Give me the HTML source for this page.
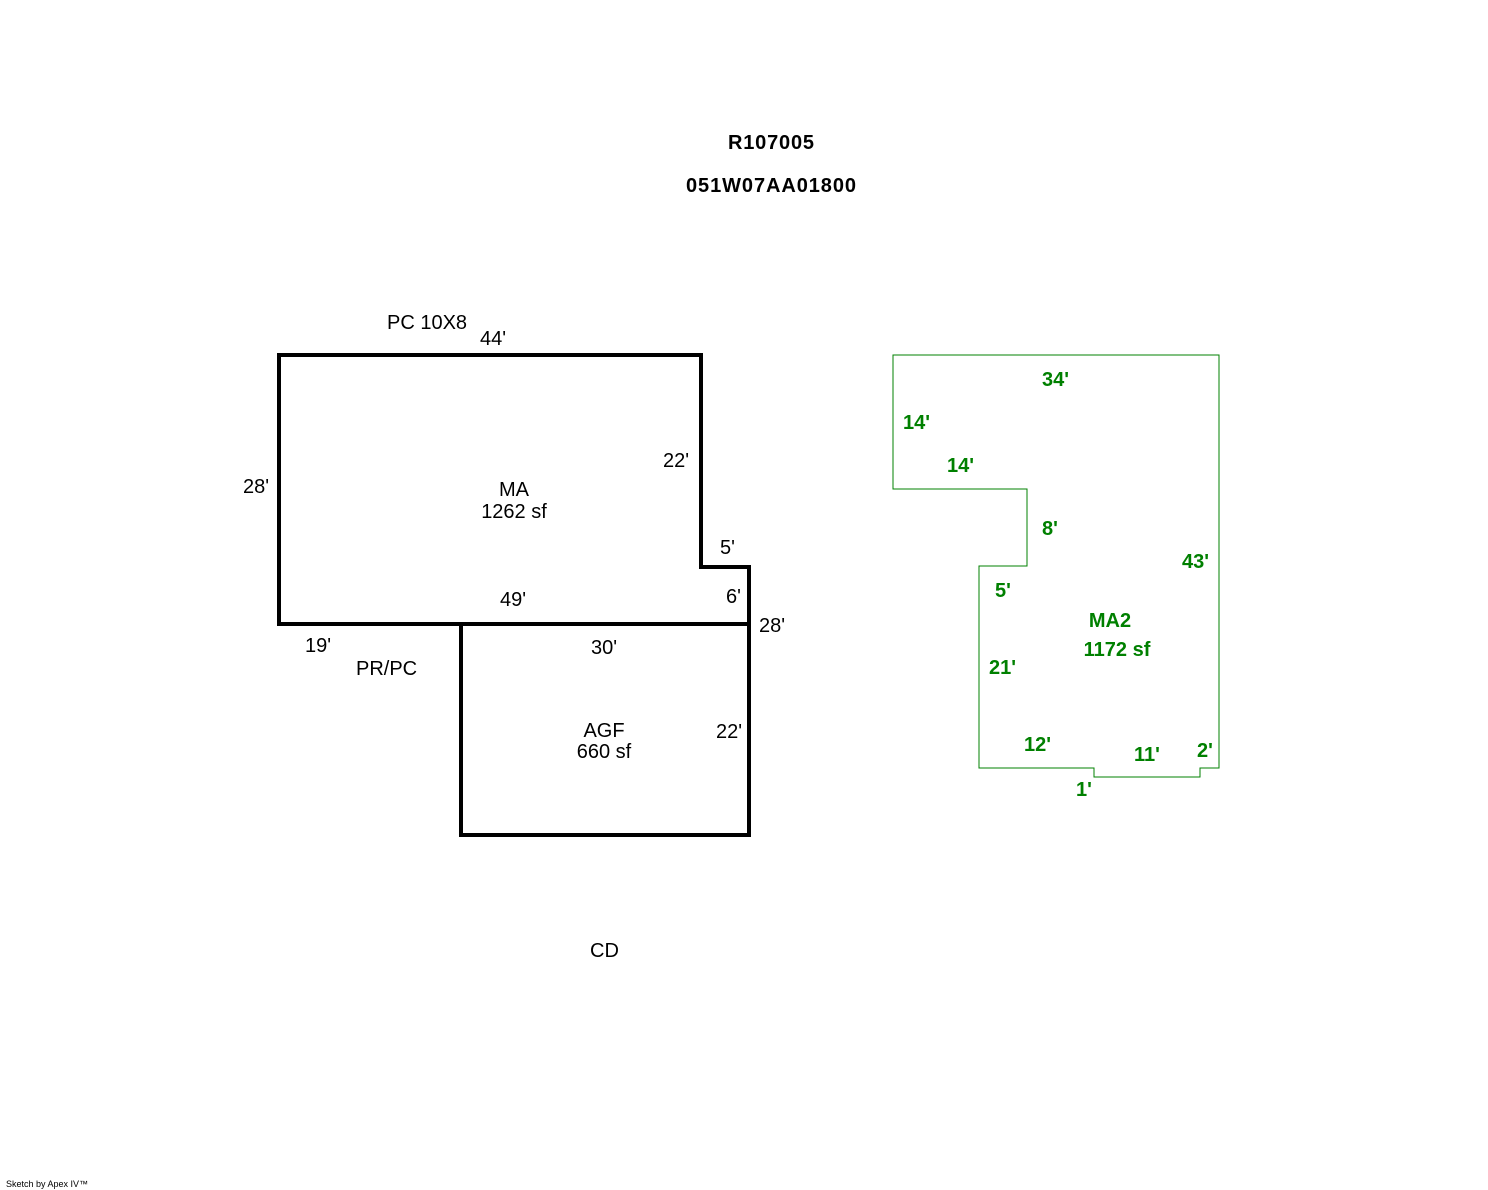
<!DOCTYPE html>
<html><head><style>
body{margin:0;background:#fff;}
svg{display:block}
text{font-family:"Liberation Sans",Arial,sans-serif;}
.b{font-size:20px;fill:#000}
.g{font-size:20px;fill:#008000;font-weight:bold}
.t{font-size:20px;font-weight:bold;fill:#000}
</style></head><body>
<svg width="1488" height="1190" viewBox="0 0 1488 1190" xmlns="http://www.w3.org/2000/svg">
<text class="t" x="771" y="149" text-anchor="middle" textLength="86">R107005</text>
<text class="t" x="771" y="192" text-anchor="middle" textLength="170">051W07AA01800</text>
<g fill="none" stroke="#000" stroke-width="4">
<path d="M279 355 H701 V567 H749 V835 H461 V624 H279 Z"/>
<path d="M461 624 H749"/>
</g>
<path d="M893 355 H1219 V768 H1200 V777 H1094 V768 H979 V566 H1027 V489 H893 Z" fill="none" stroke="#008000" stroke-width="1"/>
<g class="b">
<text x="387" y="329">PC 10X8</text>
<text x="480" y="345">44'</text>
<text x="243" y="493">28'</text>
<text x="663" y="467">22'</text>
<text x="514" y="496" text-anchor="middle">MA</text>
<text x="514" y="518" text-anchor="middle">1262 sf</text>
<text x="720" y="554">5'</text>
<text x="726" y="603">6'</text>
<text x="500" y="606">49'</text>
<text x="759" y="632">28'</text>
<text x="305" y="652">19'</text>
<text x="591" y="654">30'</text>
<text x="356" y="675">PR/PC</text>
<text x="604" y="737" text-anchor="middle">AGF</text>
<text x="604" y="758" text-anchor="middle">660 sf</text>
<text x="716" y="738">22'</text>
<text x="590" y="957">CD</text>
</g>
<g class="g">
<text x="1042" y="386">34'</text>
<text x="903" y="429">14'</text>
<text x="947" y="472">14'</text>
<text x="1042" y="535">8'</text>
<text x="1182" y="568">43'</text>
<text x="995" y="597">5'</text>
<text x="1110" y="627" text-anchor="middle">MA2</text>
<text x="1117" y="656" text-anchor="middle">1172 sf</text>
<text x="989" y="674">21'</text>
<text x="1024" y="751">12'</text>
<text x="1134" y="761">11'</text>
<text x="1197" y="757">2'</text>
<text x="1076" y="796">1'</text>
</g>
<text x="6" y="1187" style="font-size:9px" fill="#000">Sketch by Apex IV™</text>
</svg>
</body></html>
